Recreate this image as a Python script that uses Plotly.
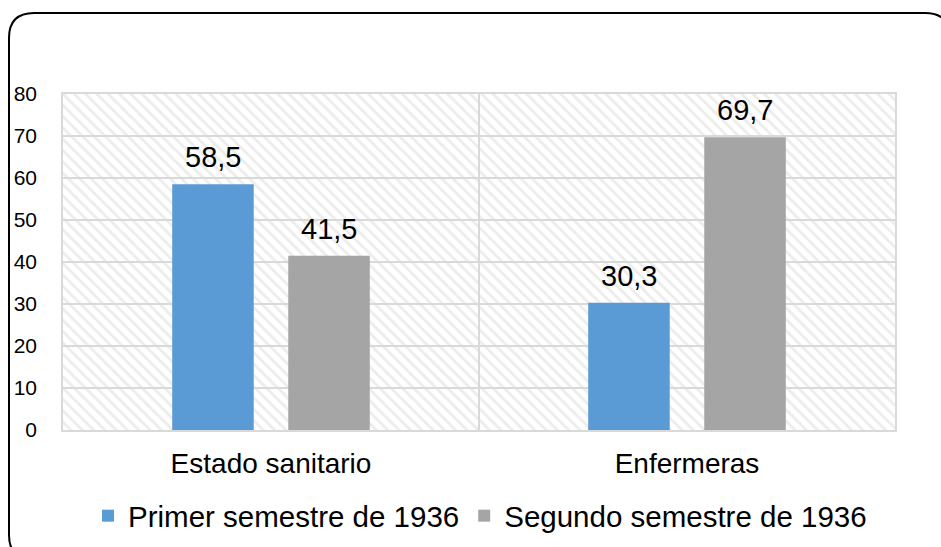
import plotly.graph_objects as go

categories = ["Estado sanitario", "Enfermeras"]
series_names = ["Primer semestre de 1936", "Segundo semestre de 1936"]
primer = [58.5, 30.3]
segundo = [41.5, 69.7]
y_ticks = [0, 10, 20, 30, 40, 50, 60, 70, 80]

BLUE = "#5b9bd5"
GRAY = "#a5a5a5"
GRID = "#d9d9d9"
FONT = "Arial, Liberation Sans, sans-serif"

W, H = 941, 547
L, R, T, B = 63, 46, 94, 117
PW, PH = W - L - R, H - T - B


def px(x):
    return (x - L) / PW


def py(y):
    return (H - B - y) / PH


BAR_W = 0.196
OFFS = [-0.2375, 0.0415]

fig = go.Figure()

# hatched plot-area background
fig.add_trace(go.Bar(
    x=[categories[0]], y=[y_ticks[-1]], base=[0], offset=-0.5, width=2,
    marker=dict(color="rgba(0,0,0,0)", line=dict(width=0),
                pattern=dict(shape="\\", fgcolor=GRID, bgcolor="rgba(0,0,0,0)",
                             size=8, solidity=0.35)),
    showlegend=False, hoverinfo="skip",
))

for name, vals, col, off in zip(series_names, [primer, segundo], [BLUE, GRAY], OFFS):
    fig.add_trace(go.Bar(
        x=categories, y=vals, name=name, offset=off, width=BAR_W,
        marker=dict(color=col, line=dict(width=0)),
    ))

annotations = []
for vals, off in zip([primer, segundo], OFFS):
    for i, v in enumerate(vals):
        annotations.append(dict(
            x=i + off + BAR_W / 2, y=v, xref="x", yref="y",
            text=f"{v:.1f}".replace(".", ","), showarrow=False,
            yanchor="bottom", yshift=9,
            font=dict(size=29, color="black", family=FONT),
        ))

x0, y0, x1, y1, r = 9, 13, 950, 560, 25
path = (
    f"M {px(x0 + r)},{py(y0)} L {px(x1 - r)},{py(y0)} "
    f"Q {px(x1)},{py(y0)} {px(x1)},{py(y0 + r)} "
    f"L {px(x1)},{py(y1 - r)} Q {px(x1)},{py(y1)} {px(x1 - r)},{py(y1)} "
    f"L {px(x0 + r)},{py(y1)} Q {px(x0)},{py(y1)} {px(x0)},{py(y1 - r)} "
    f"L {px(x0)},{py(y0 + r)} Q {px(x0)},{py(y0)} {px(x0 + r)},{py(y0)} Z"
)

fig.update_layout(
    width=W, height=H,
    margin=dict(l=L, r=R, t=T, b=B, autoexpand=False),
    paper_bgcolor="white", plot_bgcolor="white",
    barmode="overlay",
    separators=",.",
    hovermode=False,
    font=dict(family=FONT, color="black"),
    xaxis=dict(
        type="category", range=[-0.5, 1.5], tickson="boundaries",
        showgrid=True, gridcolor=GRID, gridwidth=1.5,
        showline=True, linecolor=GRID, linewidth=1.5, mirror=True,
        ticks="", tickfont=dict(size=28, color="black"),
        ticklabelstandoff=8, automargin=False,
    ),
    yaxis=dict(
        range=[0, 80], tickvals=y_ticks,
        showgrid=True, gridcolor=GRID, gridwidth=1.5, zeroline=False,
        showline=True, linecolor=GRID, linewidth=1.5, mirror=True,
        ticks="", tickfont=dict(size=21, color="black"),
        ticklabelstandoff=20, automargin=False,
    ),
    legend=dict(
        orientation="h", x=px(480), xanchor="center",
        y=py(516), yanchor="middle",
        font=dict(size=29.5, color="black"),
        bgcolor="rgba(0,0,0,0)",
    ),
    annotations=annotations,
    shapes=[dict(type="path", path=path, xref="paper", yref="paper",
                 line=dict(color="black", width=2), layer="above")],
)

fig.write_html("out.html", config={"displayModeBar": False},
               post_script="document.body.style.margin='0px';")
